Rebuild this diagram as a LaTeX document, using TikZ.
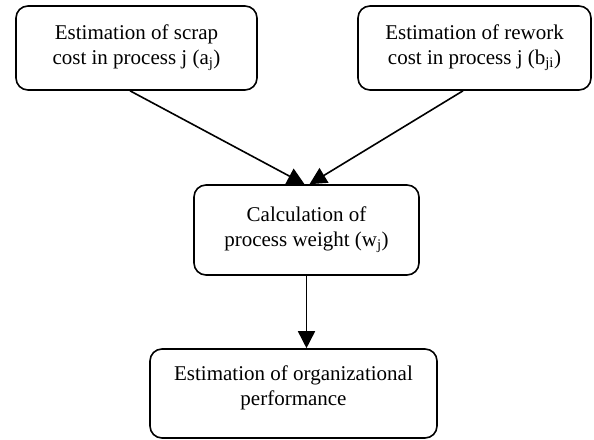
\documentclass[tikz,border=0pt]{standalone}
\usepackage{fontspec}
\setmainfont{Liberation Serif}
\usetikzlibrary{arrows.meta,calc}
\begin{document}
\begin{tikzpicture}[x=1pt,y=-1pt,
  box/.style={draw,line width=1.6pt,rounded corners=12pt,align=center,
    font=\fontsize{21}{25}\selectfont,inner sep=0pt},
  arr/.style={line width=1.6pt,-{Triangle[length=17pt,width=17pt]}}]
\useasboundingbox (0,0) rectangle (594,439);
\node[box,minimum width=241pt,minimum height=84pt] (b1) at (136.5,48)
  {Estimation of scrap\\cost in process j (a\textsubscript{j})};
\node[box,minimum width=233pt,minimum height=84pt] (b2) at (474.5,48)
  {Estimation of rework\\cost in process j (b\textsubscript{ji})};
\node[box,minimum width=225pt,minimum height=90pt] (b3) at (306.5,230)
  {Calculation of\\process weight (w\textsubscript{j})};
\node[box,minimum width=287pt,minimum height=89pt] (b4) at (293.5,393.5)
  {Estimation of organizational\\performance\\[-9pt]};
\draw[arr] ($(b1.south)+(-6.5,0)$) -- ($(b3.north)+(-2,0)$);
\draw[arr] ($(b2.south)+(-11.5,0)$) -- ($(b3.north)+(3,0)$);
\draw[arr] (b3.south) -- (b4.north -| b3.south);
\end{tikzpicture}
\end{document}
